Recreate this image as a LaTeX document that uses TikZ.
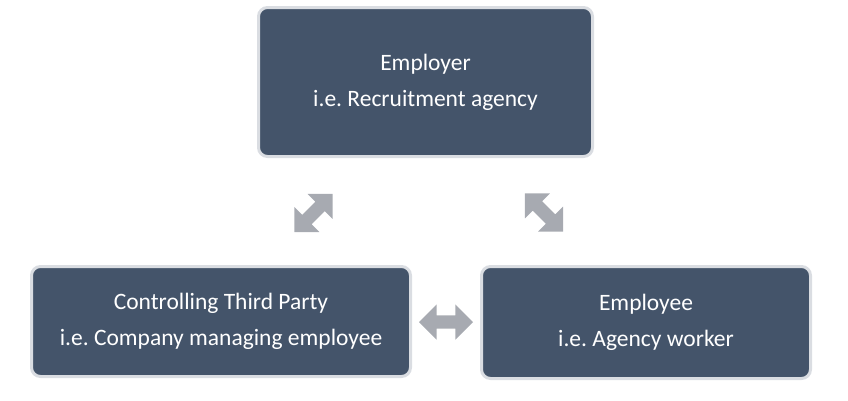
\documentclass[tikz,border=0pt]{standalone}
\usepackage{fontspec}
\setmainfont{Carlito}
\usetikzlibrary{shapes.arrows,calc}

\definecolor{boxfill}{HTML}{44546A}
\definecolor{boxline}{HTML}{DADDE2}
\definecolor{arrowgray}{HTML}{A7AAB1}

\tikzset{
  party/.style = {rectangle, rounded corners=9pt, fill=boxfill, draw=boxline,
    line width=3pt, text=white, align=center, inner sep=0pt,
    font=\fontsize{23.5}{36}\selectfont},
  link/.style = {double arrow, fill=arrowgray, draw=none, inner sep=6.5pt,
    minimum width=0pt, minimum height=54pt, double arrow head extend=11pt}
}

\begin{document}
\frenchspacing
\begin{tikzpicture}[x=1pt, y=-1pt]

\useasboundingbox (0,0) rectangle (848,400);

\node[party, minimum width=334pt, minimum height=149pt] (employer) at (425.5,82)
  {Employer\\i.e. Recruitment agency};
\node[party, minimum width=379pt, minimum height=110pt] (third) at (221,321.5)
  {Controlling Third Party\\i.e. Company managing employee};
\node[party, minimum width=329pt, minimum height=112pt] (employee) at (646,322.5)
  {Employee\\i.e. Agency worker};

\node[link, rotate=45] (left) at (313.5,213) {};
\node[link, rotate=-45] (right) at (544,212.5) {};
\node[link] (bottom) at ($(third.east)!0.5!(employee.west)$) {};

\end{tikzpicture}
\end{document}
